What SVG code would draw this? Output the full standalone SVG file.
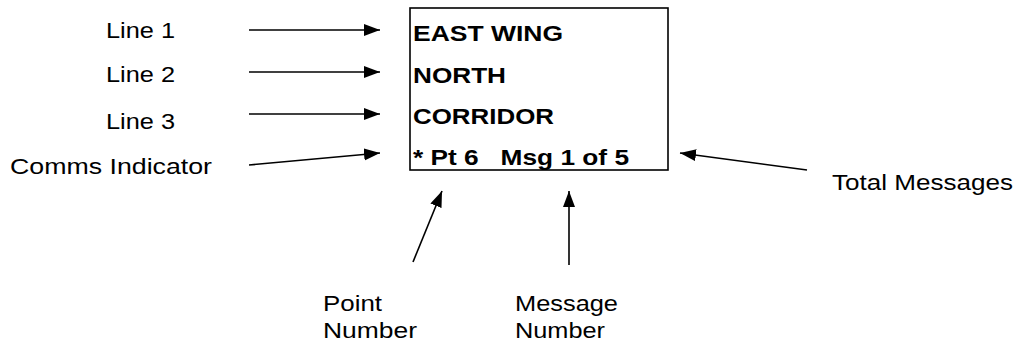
<svg xmlns="http://www.w3.org/2000/svg" width="1015" height="345" viewBox="0 0 1015 345">
<style>
.lbl{font-family:"Liberation Sans",Arial,sans-serif;font-size:21.5px;fill:#000}
.bx{font-family:"Liberation Sans",Arial,sans-serif;font-size:21.5px;font-weight:bold;fill:#000}
.c{stroke:#000;stroke-width:1.6;fill:none;marker-end:url(#ah)}
</style>
<defs>
<marker id="ah" markerUnits="userSpaceOnUse" markerWidth="17" markerHeight="13" refX="16" refY="6" orient="auto">
<path d="M0,0 L16,6 L0,12 Z" fill="#000"/>
</marker>
</defs>
<rect width="1015" height="345" fill="#fff"/>
<g id="display">
<rect x="410" y="8" width="258" height="162" fill="#fff" stroke="#000" stroke-width="1.6"/>
<text class="bx" x="413" y="41" textLength="150" lengthAdjust="spacingAndGlyphs">EAST WING</text>
<text class="bx" x="413" y="83" textLength="93" lengthAdjust="spacingAndGlyphs">NORTH</text>
<text class="bx" x="413" y="124" textLength="141" lengthAdjust="spacingAndGlyphs">CORRIDOR</text>
<text class="bx" x="413" y="165" textLength="216" lengthAdjust="spacingAndGlyphs" xml:space="preserve">* Pt 6   Msg 1 of 5</text>
</g>
<g id="line1"><text class="lbl" x="106" y="38" textLength="69" lengthAdjust="spacingAndGlyphs">Line 1</text></g>
<g id="line2"><text class="lbl" x="106" y="82" textLength="69" lengthAdjust="spacingAndGlyphs">Line 2</text></g>
<g id="line3"><text class="lbl" x="106" y="129" textLength="69" lengthAdjust="spacingAndGlyphs">Line 3</text></g>
<g id="comms"><text class="lbl" x="10" y="174" textLength="202" lengthAdjust="spacingAndGlyphs">Comms Indicator</text></g>
<g id="total"><text class="lbl" x="832" y="190" textLength="181" lengthAdjust="spacingAndGlyphs">Total Messages</text></g>
<g id="point">
<text class="lbl" x="323" y="311" textLength="59" lengthAdjust="spacingAndGlyphs">Point</text>
<text class="lbl" x="323" y="338" textLength="94" lengthAdjust="spacingAndGlyphs">Number</text>
</g>
<g id="message">
<text class="lbl" x="515" y="311" textLength="103" lengthAdjust="spacingAndGlyphs">Message</text>
<text class="lbl" x="515" y="338" textLength="90" lengthAdjust="spacingAndGlyphs">Number</text>
</g>
<g id="connectors">
<line class="c" x1="249" y1="30" x2="380" y2="30"/>
<line class="c" x1="249" y1="72" x2="380" y2="72"/>
<line class="c" x1="249" y1="114" x2="380" y2="114"/>
<line class="c" x1="249" y1="165" x2="380" y2="153"/>
<line class="c" x1="807" y1="170" x2="680" y2="153"/>
<line class="c" x1="413" y1="262" x2="442" y2="191"/>
<line class="c" x1="569" y1="265" x2="569" y2="191"/>
</g>
</svg>
